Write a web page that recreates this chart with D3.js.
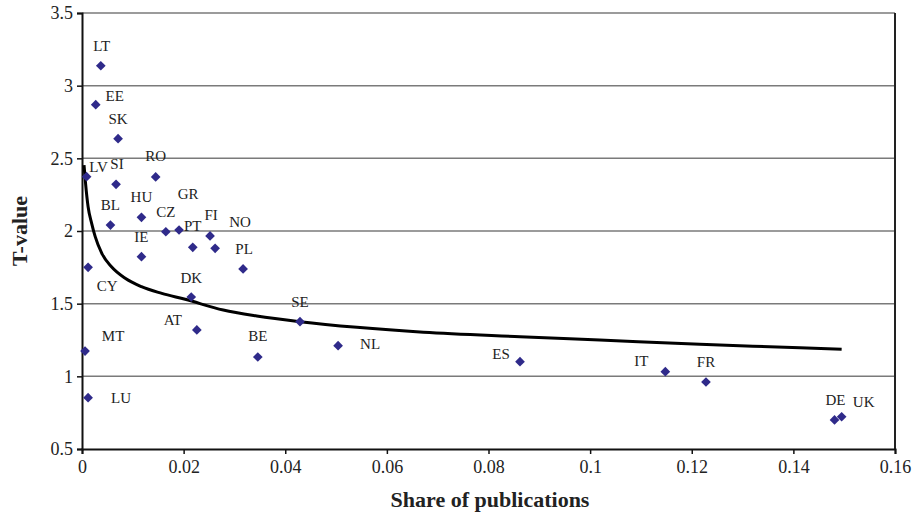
<!DOCTYPE html>
<html>
<head>
<meta charset="utf-8">
<script src="https://cdn.jsdelivr.net/npm/d3@7"></script>
<style>
  body { margin: 0; background: #fff; }
</style>
</head>
<body>
<div id="canvas"></div>
<script>
// data
var countries = ["LT","EE","SK","LV","SI","RO","BL","HU","CZ","GR","PT","FI","NO","PL","IE","CY","DK","AT","MT","LU","SE","BE","NL","ES","IT","FR","DE","UK"];
var share = [0.0037,0.0027,0.0071,0.0009,0.0067,0.0145,0.0056,0.0117,0.0165,0.0191,0.0218,0.0252,0.0262,0.0317,0.0117,0.0012,0.0215,0.0226,0.0006,0.0012,0.0429,0.0346,0.0504,0.0862,0.1148,0.1228,0.1481,0.1495];
var tvalue = [3.137,2.869,2.635,2.374,2.321,2.372,2.041,2.094,1.995,2.007,1.888,1.966,1.881,1.739,1.823,1.750,1.546,1.319,1.174,0.853,1.376,1.133,1.211,1.101,1.032,0.961,0.700,0.722];

// trend curve, points
var trendX = [0.0004,0.0007,0.0012,0.0019,0.0026,0.0039,0.0058,0.0085,0.0117,0.0157,0.0203,0.0278,0.0344,0.0429,0.0541,0.0672,0.0862,0.1019,0.1216,0.1413,0.1495];
var trendY = [2.454,2.328,2.167,2.053,1.961,1.846,1.754,1.675,1.617,1.571,1.530,1.456,1.415,1.376,1.337,1.303,1.273,1.250,1.220,1.197,1.186];

var xTicks = [0,0.02,0.04,0.06,0.08,0.1,0.12,0.14,0.16];
var yTicks = [0.5,1,1.5,2,2.5,3,3.5];

// label placement (pixel offset of label centre from its point)
var labelOffsets = {
  LT:[1,-20], EE:[19,-9], SK:[0,-20], LV:[12,-10], SI:[1,-20], RO:[0,-21],
  BL:[0,-20], HU:[0,-20], CZ:[0,-20], GR:[9,-36], PT:[0,-21], FI:[1,-21],
  NO:[25,-26], PL:[1,-20], IE:[0,-20], CY:[19,19], DK:[0,-19], AT:[-24,-10],
  MT:[28,-15], LU:[33,0], SE:[0,-20], BE:[0,-21], NL:[32,-2], ES:[-19,-8],
  IT:[-24,-11], FR:[0,-20], DE:[1,-20], UK:[22,-15]
};

var W = 919, H = 516;
var margin = {left: 82, top: 13, right: 24, bottom: 67};
var w = W - margin.left - margin.right;
var h = H - margin.top - margin.bottom;
var serif = "Liberation Serif";

var svg = d3.select("#canvas").append("svg").attr("width", W).attr("height", H);
var g = svg.append("g").attr("transform", "translate(" + margin.left + "," + margin.top + ")");

var x = d3.scaleLinear().domain([0, 0.16]).range([0, w]);
var y = d3.scaleLinear().domain([0.5, 3.5]).range([h, 0]);

// gridlines
g.selectAll("line.grid").data(yTicks.filter(function(d){ return d > 0.5; }))
  .enter().append("line")
  .attr("class", "grid")
  .attr("x1", 0).attr("x2", w)
  .attr("y1", function(d){ return y(d); }).attr("y2", function(d){ return y(d); })
  .style("stroke", "#7a7a7a").style("stroke-width", 1.5);

// right border
g.append("line").attr("x1", w).attr("x2", w).attr("y1", 0).attr("y2", h)
  .style("stroke", "#222").style("stroke-width", 2);

// axes
var xAxis = g.append("g").attr("transform", "translate(0," + h + ")")
  .call(d3.axisBottom(x).tickValues(xTicks).tickFormat(d3.format("")).tickSize(5).tickPadding(6));
var yAxis = g.append("g")
  .call(d3.axisLeft(y).tickValues(yTicks).tickFormat(d3.format("")).tickSize(5).tickPadding(4));

[xAxis, yAxis].forEach(function(a) {
  a.attr("font-family", serif);
  a.select(".domain").style("stroke", "#111").style("stroke-width", 2);
  a.selectAll(".tick line").style("stroke", "#111").style("stroke-width", 1.5);
  a.selectAll("text").attr("font-family", serif).style("font-size", "18px").style("fill", "#222");
});

// trend line
var trend = trendX.map(function(d, i){ return [d, trendY[i]]; });
g.append("path").datum(trend)
  .attr("d", d3.line().x(function(d){ return x(d[0]); }).y(function(d){ return y(d[1]); }).curve(d3.curveMonotoneX))
  .style("fill", "none").style("stroke", "#000").style("stroke-width", 3);

// points
var pts = countries.map(function(c, i){ return {c: c, x: share[i], y: tvalue[i]}; });
g.selectAll("path.pt").data(pts).enter().append("path")
  .attr("class", "pt")
  .attr("d", d3.symbol().type(d3.symbolDiamond2).size(60))
  .attr("transform", function(d){ return "translate(" + x(d.x) + "," + y(d.y) + ")"; })
  .style("fill", "#2f2a8a");

// point labels
g.selectAll("text.lab").data(pts).enter().append("text")
  .attr("class", "lab")
  .attr("x", function(d){ return x(d.x) + labelOffsets[d.c][0]; })
  .attr("y", function(d){ return y(d.y) + labelOffsets[d.c][1] + 5; })
  .attr("text-anchor", "middle")
  .attr("font-family", serif)
  .style("font-size", "15px").style("fill", "#222")
  .text(function(d){ return d.c; });

// axis titles
svg.append("text")
  .attr("transform", "translate(27," + (margin.top + h / 2) + ") rotate(-90)")
  .attr("text-anchor", "middle")
  .attr("font-family", serif)
  .style("font-size", "22px").style("font-weight", "bold").style("fill", "#222")
  .text("T-value");

svg.append("text")
  .attr("x", 490).attr("y", 507)
  .attr("text-anchor", "middle")
  .attr("font-family", serif)
  .style("font-size", "22px").style("font-weight", "bold").style("fill", "#222")
  .text("Share of publications");
</script>
</body>
</html>
